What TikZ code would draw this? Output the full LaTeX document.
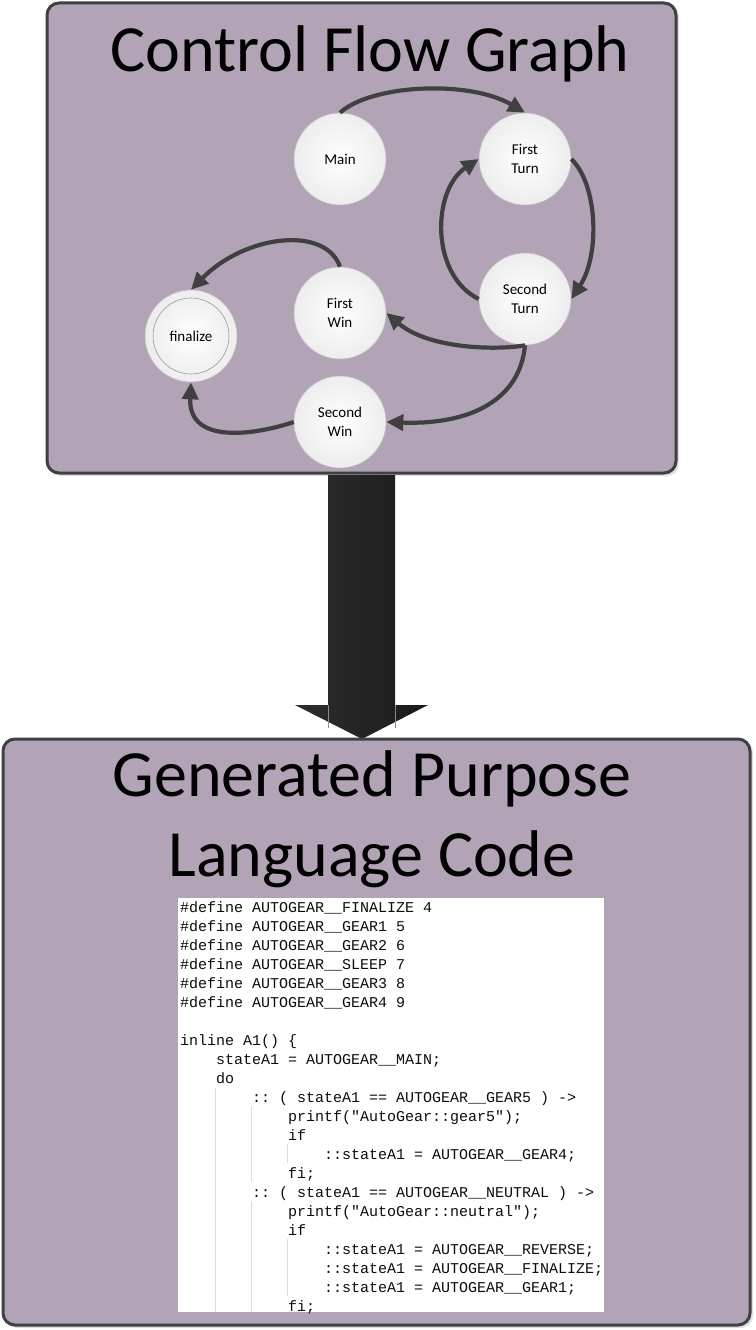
\documentclass[tikz,border=0pt]{standalone}
\usepackage{fontspec}
\setmainfont{Carlito}
\newfontfamily\codefont{Liberation Mono}
\usetikzlibrary{arrows.meta}
\definecolor{boxfill}{HTML}{B3A3B6}
\definecolor{boxline}{HTML}{404040}
\definecolor{edgecol}{HTML}{404040}
\definecolor{guide}{HTML}{DCDCDC}
\tikzset{
  panel/.style={draw=boxline, line width=3pt, fill=boxfill, rounded corners=12pt},
  panelshadow/.style={fill=black!12, rounded corners=12pt},
  state/.style={circle, minimum size=92pt, inner sep=0pt, draw=black!25, line width=0.6pt,
    shading=radial, inner color=white, outer color=black!7, align=center,
    font=\fontsize{15}{19}\selectfont},
  titletext/.style={font=\fontsize{66}{80}\selectfont, inner sep=0pt, anchor=base},
  flow/.style={draw=edgecol, line width=4.2pt, -{Triangle[length=17pt,width=16pt]}},
  codeline/.style={anchor=base west, inner sep=0pt, font=\codefont\fontsize{15}{19}\selectfont, text=black!95},
  guideline/.style={draw=guide, line width=0.8pt}
}
\begin{document}
\frenchspacing
\begin{tikzpicture}[x=1pt,y=-1pt]
\useasboundingbox (0,0) rectangle (755,1330);
% top panel
\fill[panelshadow] (49,5) rectangle (679,476);
\draw[panel] (47,3) rectangle (676,473);
\node[titletext] (t1) at (370,71) {Control Flow Graph};
% states
\node[state] (main) at (340,159) {Main};
\node[state] (ft) at (525,159) {First\\Turn};
\node[state] (st) at (525,299) {Second\\Turn};
\node[state] (fw) at (340,313) {First\\Win};
\node[state] (sw) at (340,422) {Second\\Win};
\node[state] (fin) at (191,336) {};
\node[circle, minimum size=76pt, inner sep=0pt, draw=black!40, line width=0.6pt,
  shading=radial, inner color=white, outer color=black!6,
  font=\fontsize{15}{19}\selectfont] (finin) at (fin.center) {finalize};
% edges
\draw[flow] (main.north) .. controls (372,84) and (470,80) .. (ft.north);
\draw[flow] (ft.east) .. controls (598,185) and (600,255) .. (st.east);
\draw[flow] (st.west) .. controls (430,275) and (432,190) .. (ft.west);
\draw[flow] (st.south) .. controls (500,350) and (430,350) .. (fw.east);
\draw[flow] (st.south) .. controls (520,400) and (470,425) .. (sw.east);
\draw[flow] (fw.north) .. controls (325,225) and (245,235) .. (fin.north);
\draw[flow] (sw.west) .. controls (255,435) and (188,445) .. (fin.south);
% big arrow
\shade[left color=black!82, right color=black!90, middle color=black!86]
  (328,475) -- (395,475) -- (395,705) -- (428,705) -- (362,739) -- (295,705) -- (328,705) -- cycle;
\draw[black!45, line width=0.5pt] (328,705) -- (328,728) (395,705) -- (395,728);
% bottom panel
\fill[panelshadow] (5,741) rectangle (753,1328);
\draw[panel] (3,739) rectangle (750,1325);
\node[titletext] (t2) at (372,796) {Generated Purpose};
\node[titletext] (t3) at (372,876) {Language Code};
% code area
\fill[white] (178,898) rectangle (604,1312);
\draw[guideline] (215,1088) -- (215,1312);
\draw[guideline] (251,1106) -- (251,1182) (251,1201) -- (251,1312);
\draw[guideline] (287,1144) -- (287,1163) (287,1239) -- (287,1296);
\node[codeline] (c1) at (180,912) {\#define AUTOGEAR\_\_FINALIZE 4};
\node[codeline] (c2) at (180,931) {\#define AUTOGEAR\_\_GEAR1 5};
\node[codeline] (c3) at (180,950) {\#define AUTOGEAR\_\_GEAR2 6};
\node[codeline] (c4) at (180,969) {\#define AUTOGEAR\_\_SLEEP 7};
\node[codeline] (c5) at (180,988) {\#define AUTOGEAR\_\_GEAR3 8};
\node[codeline] (c6) at (180,1007) {\#define AUTOGEAR\_\_GEAR4 9};
\node[codeline] (c8) at (180,1045) {inline A1() \{};
\node[codeline] (c9) at (216,1064) {stateA1 = AUTOGEAR\_\_MAIN;};
\node[codeline] (c10) at (216,1083) {do};
\node[codeline] (c11) at (252,1102) {:: ( stateA1 == AUTOGEAR\_\_GEAR5 ) ->};
\node[codeline] (c12) at (288,1121) {printf("AutoGear::gear5");};
\node[codeline] (c13) at (288,1140) {if};
\node[codeline] (c14) at (324,1159) {::stateA1 = AUTOGEAR\_\_GEAR4;};
\node[codeline] (c15) at (288,1178) {fi;};
\node[codeline] (c16) at (252,1197) {:: ( stateA1 == AUTOGEAR\_\_NEUTRAL ) ->};
\node[codeline] (c17) at (288,1216) {printf("AutoGear::neutral");};
\node[codeline] (c18) at (288,1235) {if};
\node[codeline] (c19) at (324,1254) {::stateA1 = AUTOGEAR\_\_REVERSE;};
\node[codeline] (c20) at (324,1273) {::stateA1 = AUTOGEAR\_\_FINALIZE;};
\node[codeline] (c21) at (324,1292) {::stateA1 = AUTOGEAR\_\_GEAR1;};
\node[codeline] (c22) at (288,1311) {fi;};
\end{tikzpicture}
\end{document}
